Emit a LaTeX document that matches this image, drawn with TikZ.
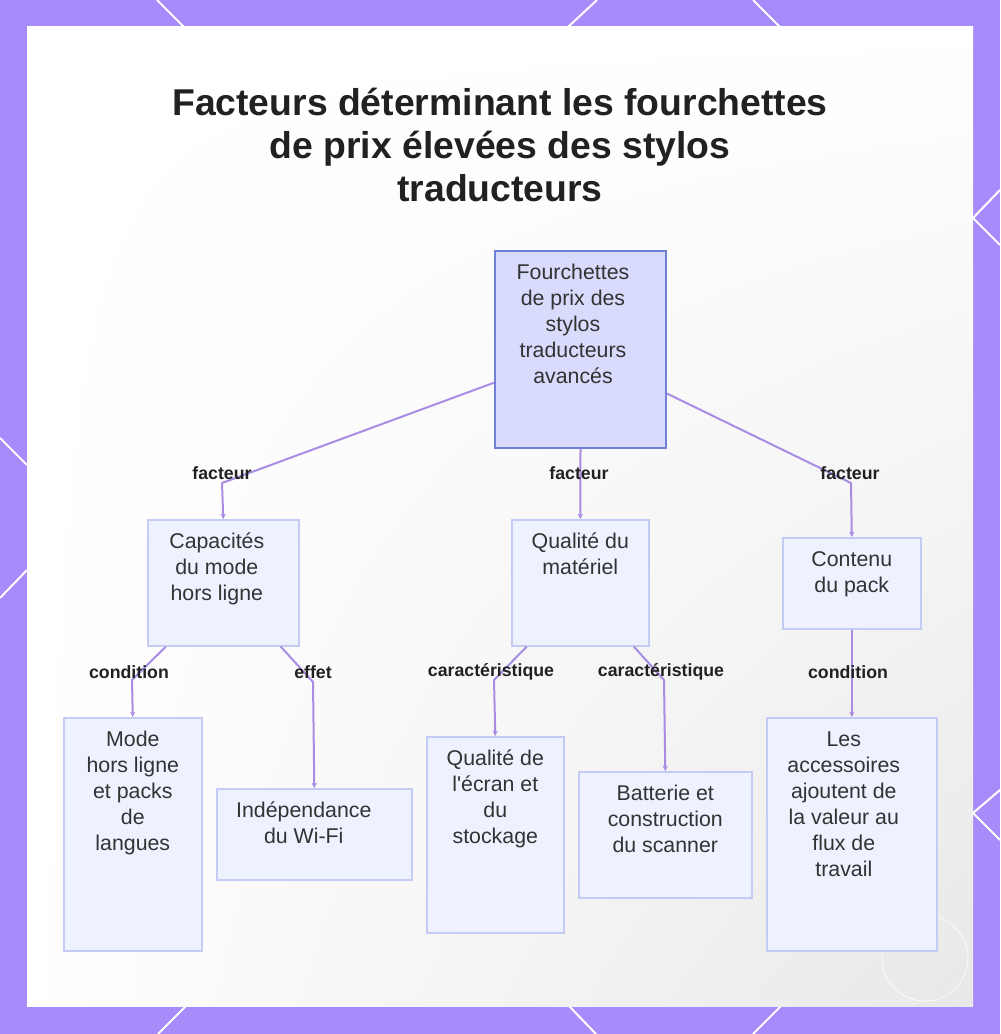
\documentclass[tikz,border=0pt]{standalone}
\usepackage{fontspec}
\setmainfont{Liberation Sans}
\usetikzlibrary{arrows.meta,shadings}

\newlength{\px}
\setlength{\px}{0.75pt}
%% text of a box: [right gap], width, height (px), lines
\newcommand{\boxtxt}[4][0]{\parbox[t][\dimexpr #3\px-15.4pt\relax][t]{#2\px}{\centering\rightskip=#1\px plus 1fil\strut #4}}

\definecolor{frame}{HTML}{A78BFA}
\definecolor{edgecol}{HTML}{A98CE4}
\definecolor{rootfill}{HTML}{D8DBFC}
\definecolor{rootline}{HTML}{6F80D8}
\definecolor{kidfill}{HTML}{EEF1FE}
\definecolor{kidline}{HTML}{C4CBF4}
\definecolor{ink}{HTML}{333333}

\begin{document}
\begin{tikzpicture}[x=0.75pt,y=-0.75pt,
  kidbox/.style={draw=kidline,fill=kidfill,line width=1.2pt,inner xsep=0pt,inner ysep=7.7pt,
    anchor=north west,text=ink,font=\fontsize{16}{19.5}\selectfont},
  rootbox/.style={kidbox,draw=rootline,fill=rootfill,line width=1.5pt},
  lbl/.style={font=\fontsize{13.3}{15}\selectfont\bfseries,text=black!87,inner sep=1pt},
  conn/.style={draw=edgecol,line width=1.5pt,line join=round,-{Stealth[length=4pt,width=4pt]}}]
  \useasboundingbox (0,0) rectangle (1000,1034);

  %% frame and its white strokes
  \fill[frame] (0,0) rectangle (1000,1034);
  \draw[white,line width=1.5pt] (157,0) -- (184,27);
  \draw[white,line width=1.5pt] (597,0) -- (568,27);
  \draw[white,line width=1.5pt] (753,0) -- (780,27);
  \draw[white,line width=1.5pt] (1000,190) -- (973,218) -- (1000,245);
  \draw[white,line width=1.5pt] (1000,790) -- (973,813) -- (1000,840);
  \draw[white,line width=1.5pt] (186,1006) -- (158,1034);
  \draw[white,line width=1.5pt] (569,1006) -- (596,1034);
  \draw[white,line width=1.5pt] (781,1006) -- (753,1034);
  \draw[white,line width=1.5pt] (0,438) -- (27,465);
  \draw[white,line width=1.5pt] (27,570) -- (0,598);
  \shade[upper left=white,upper right=white,lower left=white,lower right=black!9] (27,27) rectangle (973,1006);
  \draw[white,line width=0.6pt,opacity=0.8] (925,958) circle[radius=43];

  \node (TITLE) at (500,145) [align=center,text=black!87,font=\fontsize{28}{32.25}\selectfont\bfseries]
    {Facteurs déterminant les fourchettes\\de prix élevées des stylos\\traducteurs};

  %% boxes
  \node (ROOT) at (494,250) [rootbox] {\boxtxt[15]{171}{197}{Fourchettes\\de prix des\\stylos\\traducteurs\\avancés}};
  \node (CAP) at (147,519) [kidbox] {\boxtxt[13]{151}{126}{Capacités\\du mode\\hors ligne}};
  \node (QUAL) at (511,519) [kidbox] {\boxtxt{137}{126}{Qualité du\\matériel}};
  \node (PACK) at (782,537) [kidbox] {\boxtxt{138}{91}{Contenu\\du pack}};
  \node (MODE) at (63,717) [kidbox] {\boxtxt{138}{233}{Mode\\hors ligne\\et packs\\de\\langues}};
  \node (WIFI) at (216,788) [kidbox] {\boxtxt[21]{195}{91}{Indépendance\\du Wi-Fi}};
  \node (ECRAN) at (426,736) [kidbox] {\boxtxt{137}{196}{Qualité de\\l\textquotesingle écran et\\du\\stockage}};
  \node (BATT) at (578,771) [kidbox] {\boxtxt{173}{126}{Batterie et\\construction\\du scanner}};
  \node (ACC) at (766,717) [kidbox] {\boxtxt[16]{170}{233}{Les\\accessoires\\ajoutent de\\la valeur au\\flux de\\travail}};

  %% bends
  \coordinate (B1) at (222,483);
  \coordinate (B3) at (851,483);
  \coordinate (B4) at (132,680);
  \coordinate (B5) at (313,682);
  \coordinate (B6) at (494,680);
  \coordinate (B7) at (664,680);

  %% connectors
  \draw[conn] (ROOT.201) -- (B1) -- (CAP.north);
  \draw[conn] (ROOT.south) -- (QUAL.north);
  \draw[conn] (ROOT.-27) -- (B3) -- (PACK.north);
  \draw[conn] (CAP.228) -- (B4) -- (MODE.north);
  \draw[conn] (CAP.-48) -- (B5) -- (WIFI.north);
  \draw[conn] (QUAL.230) -- (B6) -- (ECRAN.north);
  \draw[conn] (QUAL.-50) -- (B7) -- (BATT.north);
  \draw[conn] (PACK.south) -- (ACC.north);

  %% labels
  \node (LF1) at (222,473) [lbl] {facteur};
  \node (LF2) at (579,473) [lbl] {facteur};
  \node (LF3) at (850,473) [lbl] {facteur};
  \node (LC1) at (129,672) [lbl] {condition};
  \node (LE1) at (313,672) [lbl] {effet};
  \node (LK1) at (491,672) [lbl] {caractéristique};
  \node (LK2) at (661,672) [lbl] {caractéristique};
  \node (LC2) at (848,672) [lbl] {condition};

\end{tikzpicture}
\end{document}
